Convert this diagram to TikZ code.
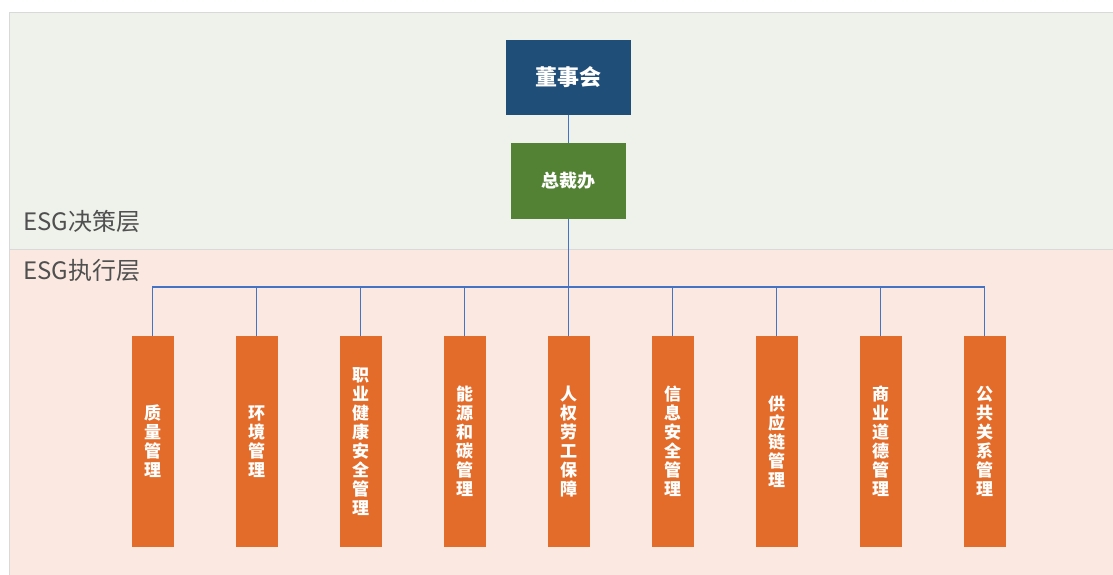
\documentclass[tikz,border=0pt]{standalone}
\usepackage{fontspec}
\setmainfont{Noto Sans CJK SC}
\definecolor{bandgreen}{HTML}{EEF2EA}
\definecolor{bandpink}{HTML}{FBE9E1}
\definecolor{boardblue}{HTML}{1F4E79}
\definecolor{presgreen}{HTML}{548235}
\definecolor{deptorange}{HTML}{E46C2A}
\definecolor{linkblue}{HTML}{4472C4}
\definecolor{labelgray}{HTML}{505050}
\tikzset{
  topbox/.style={draw=none, text=white, font=\fontsize{18}{20}\selectfont\bfseries, inner sep=0pt},
  deptbox/.style={fill=deptorange, text=white, minimum width=42pt, minimum height=211pt, inner sep=0pt, align=center, font=\fontsize{17}{19}\selectfont\bfseries},
  link/.style={draw=linkblue, line width=1.2pt},
  layerlabel/.style={anchor=base west, text=labelgray, font=\fontsize{24}{26}\selectfont, inner sep=0pt}
}
\begin{document}
\begin{tikzpicture}[x=1pt,y=-1pt]
\useasboundingbox (0,0) rectangle (1113,575);
\fill[white] (0,0) rectangle (1113,575);
\fill[bandgreen] (9,12.5) rectangle (1113,249);
\fill[bandpink] (9,249) rectangle (1113,575);
\draw[gray!30, line width=1pt] (9,575) -- (9,12.5) -- (1113,12.5);
\draw[gray!30, line width=0.8pt] (9,249) -- (1113,249);
\node[layerlabel] (declabel) at (23,230) {ESG决策层};
\node[layerlabel] (exelabel) at (23,279) {ESG执行层};
\node[topbox, fill=boardblue, minimum width=125pt, minimum height=75pt, font=\fontsize{22}{24}\selectfont\bfseries] (board) at (568.3,77.5) {董事会};
\node[topbox, fill=presgreen, minimum width=115pt, minimum height=76pt] (pres) at (568.3,181) {总裁办};
\draw[link] (board.south) -- (pres.north);
\coordinate (bus) at (568.3,287);
\foreach \i/\t in {0/质\\量\\管\\理, 1/环\\境\\管\\理, 2/职\\业\\健\\康\\安\\全\\管\\理, 3/能\\源\\和\\碳\\管\\理, 4/人\\权\\劳\\工\\保\\障, 5/信\\息\\安\\全\\管\\理, 6/供\\应\\链\\管\\理, 7/商\\业\\道\\德\\管\\理, 8/公\\共\\关\\系\\管\\理}{
  \node[deptbox] (d\i) at ({152.5+104*\i},441.5) {\t};
}
\draw[link] (pres.south) -- (bus);
\draw[link] (d0.north) |- (bus) -| (d8.north);
\foreach \i in {1,...,7}{
  \draw[link] (d\i.north) -- (d\i.north |- bus);
}
\end{tikzpicture}
\end{document}
